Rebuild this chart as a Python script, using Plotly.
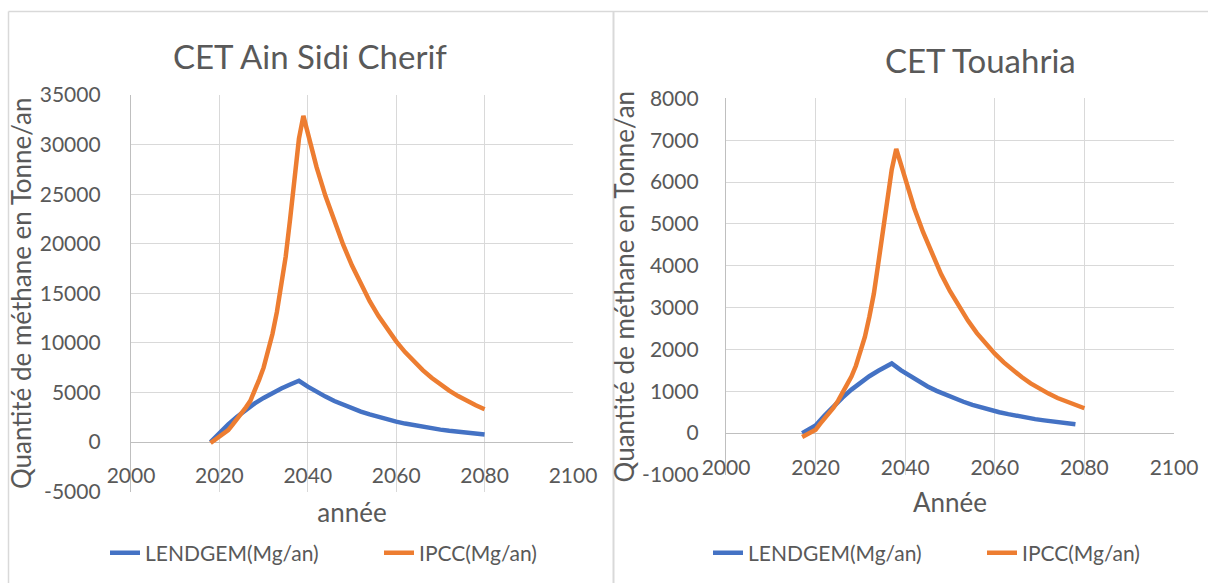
import plotly.graph_objects as go

# ---------------- data ----------------
ain_lendgem_years = [2018, 2020, 2022, 2024, 2026, 2028, 2030, 2032, 2034, 2036, 2038,
                     2040, 2042, 2044, 2046, 2048, 2050, 2052, 2054, 2056, 2058, 2060,
                     2062, 2064, 2066, 2068, 2070, 2072, 2074, 2076, 2078, 2080]
ain_lendgem = [0, 930, 1780, 2560, 3260, 3890, 4450, 4950, 5400, 5800, 6180,
               5590, 5060, 4580, 4140, 3750, 3390, 3070, 2780, 2510, 2270, 2060,
               1860, 1680, 1520, 1380, 1250, 1130, 1020, 920, 840, 760]

ain_ipcc_years = [2018, 2019, 2020, 2021, 2022, 2023, 2024, 2025, 2026, 2027, 2028,
                  2029, 2030, 2031, 2032, 2033, 2034, 2035, 2036, 2037, 2038, 2039,
                  2040, 2042, 2044, 2046, 2048, 2050, 2052, 2054, 2056, 2058, 2060,
                  2062, 2064, 2066, 2068, 2070, 2072, 2074, 2076, 2078, 2080]
ain_ipcc = [-100, 250, 600, 900, 1200, 1750, 2300, 2900, 3500, 4150, 5100,
            6300, 7500, 9100, 10900, 13100, 15700, 18700, 22500, 26800, 30600, 32900,
            31100, 27700, 24800, 22200, 19900, 17800, 15900, 14200, 12700, 11350, 10150,
            9070, 8110, 7250, 6480, 5800, 5180, 4630, 4140, 3700, 3310]

tou_lendgem_years = [2017, 2020, 2022, 2024, 2026, 2028, 2030, 2032, 2034, 2036, 2037,
                     2039, 2041, 2043, 2045, 2047, 2049, 2051, 2053, 2055, 2057, 2059,
                     2061, 2063, 2065, 2067, 2069, 2071, 2073, 2075, 2077, 2078]
tou_lendgem = [0, 185, 420, 640, 850, 1040, 1210, 1360, 1490, 1610, 1665,
               1505, 1365, 1235, 1115, 1010, 915, 825, 750, 675, 610, 555,
               500, 455, 410, 370, 335, 305, 275, 250, 225, 215]

tou_ipcc_years = [2017, 2018, 2019, 2020, 2021, 2022, 2023, 2024, 2025, 2026, 2027,
                  2028, 2029, 2030, 2031, 2032, 2033, 2034, 2035, 2036, 2037, 2038,
                  2040, 2042, 2044, 2046, 2048, 2050, 2052, 2054, 2056, 2058, 2060,
                  2062, 2064, 2066, 2068, 2070, 2072, 2074, 2076, 2078, 2080]
tou_ipcc = [-90, -30, 25, 80, 220, 340, 460, 610, 770, 950, 1130,
            1350, 1610, 1920, 2300, 2780, 3330, 4060, 4790, 5520, 6300, 6790,
            6050, 5380, 4800, 4270, 3800, 3390, 3020, 2690, 2390, 2130, 1900,
            1690, 1500, 1340, 1190, 1060, 945, 840, 750, 665, 595]

series_names = ["LENDGEM(Mg/an)", "IPCC(Mg/an)"]
titles = ["CET Ain Sidi Cherif", "CET Touahria"]
x_titles = ["année", "Année"]
y_title = "Quantité de méthane en Tonne/an"

x_ticks = [2000, 2020, 2040, 2060, 2080, 2100]
x_ticklabels = ["2000", "2020", "2040", "2060", "2080", "2100"]
ain_y_ticks = [-5000, 0, 5000, 10000, 15000, 20000, 25000, 30000, 35000]
ain_y_ticklabels = ["-5000", "0", "5000", "10000", "15000", "20000", "25000", "30000", "35000"]
tou_y_ticks = [-1000, 0, 1000, 2000, 3000, 4000, 5000, 6000, 7000, 8000]
tou_y_ticklabels = ["-1000", "0", "1000", "2000", "3000", "4000", "5000", "6000", "7000", "8000"]

# ---------------- style ----------------
W, H = 1208, 583
BLUE, ORANGE = "#4472C4", "#ED7D31"
TXT = "#595959"
GRID = "#D9D9D9"
AXL = "#BFBFBF"
FONT = "Lato"


def fx(p):
    return p / W


def fy(p):
    return 1 - p / H


fig = go.Figure()
fig.add_trace(go.Scatter(x=ain_lendgem_years, y=ain_lendgem, name=series_names[0], mode="lines",
                         line=dict(color=BLUE, width=4.5), xaxis="x", yaxis="y", legend="legend"))
fig.add_trace(go.Scatter(x=ain_ipcc_years, y=ain_ipcc, name=series_names[1], mode="lines",
                         line=dict(color=ORANGE, width=4.5), xaxis="x", yaxis="y", legend="legend"))
fig.add_trace(go.Scatter(x=tou_lendgem_years, y=tou_lendgem, name=series_names[0], mode="lines",
                         line=dict(color=BLUE, width=4.5), xaxis="x2", yaxis="y2", legend="legend2"))
fig.add_trace(go.Scatter(x=tou_ipcc_years, y=tou_ipcc, name=series_names[1], mode="lines",
                         line=dict(color=ORANGE, width=4.5), xaxis="x2", yaxis="y2", legend="legend2"))

tickfont = dict(family=FONT, size=21, color=TXT)
titlefont = dict(family=FONT, size=26, color=TXT)


def xaxis(domain, pos, title, standoff):
    return dict(domain=domain, range=[2000, 2100], tickmode="array", tickvals=x_ticks,
                ticktext=x_ticklabels, anchor="free", position=pos, automargin=False,
                showgrid=True, gridcolor=GRID, gridwidth=1.3, zeroline=False, showline=False, ticks="",
                tickfont=tickfont, title=dict(text=title, font=titlefont, standoff=standoff))


def yaxis(domain, rng, tv, tt, anchor, standoff):
    return dict(domain=domain, range=rng, tickmode="array", tickvals=tv, ticktext=tt, anchor=anchor,
                automargin=False, showgrid=True, gridcolor=GRID,
                gridwidth=1.3, zeroline=True, zerolinecolor=AXL, zerolinewidth=1.3, showline=True,
                linecolor=AXL, linewidth=1.3, ticks="", tickfont=tickfont, ticklabelstandoff=standoff,
                title=dict(text=y_title, font=titlefont, standoff=0))


legend_common = dict(orientation="h", xanchor="left", y=fy(553), yanchor="middle",
                     entrywidth=229, entrywidthmode="pixels",
                     font=dict(family=FONT, size=21, color=TXT), bgcolor="rgba(0,0,0,0)")

fig.update_layout(
    width=W, height=H,
    margin=dict(l=0, r=0, t=0, b=0, autoexpand=False),
    paper_bgcolor="white", plot_bgcolor="white",
    xaxis=xaxis([fx(131), fx(573)], fy(461), x_titles[0], 17),
    yaxis=yaxis([fy(491.6), fy(95)], [-5000, 35000], ain_y_ticks, ain_y_ticklabels, "x", 25),
    xaxis2=xaxis([fx(726), fx(1174)], fy(453), x_titles[1], 15),
    yaxis2=yaxis([fy(475), fy(98.3)], [-1000, 8000], tou_y_ticks, tou_y_ticklabels, "x2", 22),
    legend=dict(legend_common, x=fx(105)),
    legend2=dict(legend_common, x=fx(708)),
    annotations=[
        dict(text=titles[0], x=fx(310), y=fy(56), xref="paper", yref="paper", showarrow=False,
             xanchor="center", yanchor="middle", font=dict(family=FONT, size=33, color=TXT)),
        dict(text=titles[1], x=fx(980), y=fy(60), xref="paper", yref="paper", showarrow=False,
             xanchor="center", yanchor="middle", font=dict(family=FONT, size=33, color=TXT)),
    ],
    shapes=[
        dict(type="line", xref="paper", yref="paper", x0=fx(8.5), x1=1, y0=fy(11.5), y1=fy(11.5),
             line=dict(color=GRID, width=1.5)),
        dict(type="line", xref="paper", yref="paper", x0=fx(8.5), x1=fx(8.5), y0=fy(11.5), y1=0,
             line=dict(color=GRID, width=1.5)),
        dict(type="line", xref="paper", yref="paper", x0=fx(613.5), x1=fx(613.5), y0=fy(11.5), y1=0,
             line=dict(color=GRID, width=2)),
    ],
)

fig.write_html("out.html", config={"displayModeBar": False},
               post_script="document.body.style.margin='0';")
